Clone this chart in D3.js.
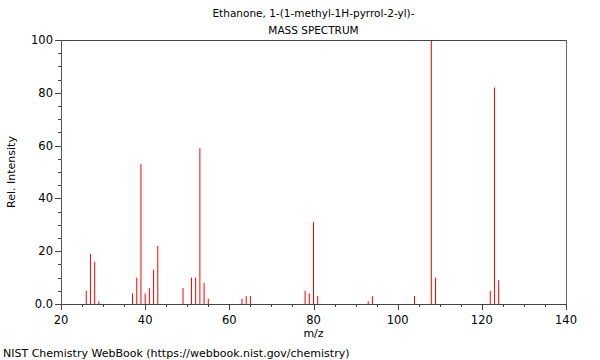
<!DOCTYPE html>
<html><head><meta charset="utf-8">
<script src="https://cdn.jsdelivr.net/npm/d3@7"></script>
<style>body{margin:0;background:#fff}svg{display:block;font-family:"DejaVu Sans",sans-serif}</style>
</head><body><svg id="c" width="600" height="360"></svg>
<script>
const titleLines = ["Ethanone, 1-(1-methyl-1H-pyrrol-2-yl)-", "MASS SPECTRUM"];
const mz =        [26, 27, 28, 29, 37, 38, 39, 40, 41, 42, 43, 49, 51, 52, 53, 54, 55, 63, 64, 65, 78, 79, 80, 81, 93, 94, 104, 108, 109, 122, 123, 124];
const intensity = [5, 19, 16, 1, 4, 10, 53, 4, 6, 13, 22, 6, 10, 10, 59, 8, 2, 2, 3, 3, 5, 4, 31, 3, 1, 3, 3, 100, 10, 5, 82, 9];
const xTicks = [20, 40, 60, 80, 100, 120, 140];
const yTicks = [0, 20, 40, 60, 80, 100];
const yTickLabels = ["0.0", "20", "40", "60", "80", "100"];

const svg = d3.select("#c");
const L = 61, R = 566, T = 40, B = 304;
const x = d3.scaleLinear().domain([20, 140]).range([L, R]);
const y = d3.scaleLinear().domain([0, 100]).range([B, T]);

// peaks
svg.append("g").selectAll("line").data(mz).join("line")
  .attr("x1", (d) => x(d)).attr("x2", (d) => x(d))
  .attr("y1", y(0)).attr("y2", (d, i) => y(intensity[i]))
  .attr("stroke", "#ff0000").attr("stroke-width", 1);

// frame top/right
svg.append("line").attr("x1", L).attr("x2", R).attr("y1", T + 0.5).attr("y2", T + 0.5).attr("stroke", "#444");
svg.append("line").attr("x1", R + 0.5).attr("x2", R + 0.5).attr("y1", T).attr("y2", B).attr("stroke", "#666");

// x axis
const xMinor = d3.range(20, 141, 5);
const xa = svg.append("g");
xa.append("line").attr("x1", L).attr("x2", R + 1).attr("y1", B + 0.5).attr("y2", B + 0.5).attr("stroke", "#444");
xa.selectAll(".mn").data(xMinor).join("line")
  .attr("x1", (d) => Math.round(x(d)) + 0.5).attr("x2", (d) => Math.round(x(d)) + 0.5)
  .attr("y1", B).attr("y2", (d) => B + (d % 20 === 0 ? 6 : 3)).attr("stroke", "#444");
xa.selectAll("text").data(xTicks).join("text")
  .attr("x", (d) => x(d)).attr("y", 324).attr("text-anchor", "middle")
  .attr("font-size", 11.5).attr("fill", "#000").text((d) => d);

// y axis
const yMinor = d3.range(0, 101, 5);
const ya = svg.append("g");
ya.append("line").attr("x1", L + 0.5).attr("x2", L + 0.5).attr("y1", T).attr("y2", B + 1).attr("stroke", "#555");
ya.selectAll(".mn").data(yMinor).join("line")
  .attr("y1", (d) => Math.round(y(d)) + 0.5).attr("y2", (d) => Math.round(y(d)) + 0.5)
  .attr("x1", L).attr("x2", (d) => L - (d % 20 === 0 ? 6 : 3)).attr("stroke", "#444");
ya.selectAll("text").data(yTicks).join("text")
  .attr("x", 53).attr("y", (d) => y(d) + 4).attr("text-anchor", "end")
  .attr("font-size", 11.5).attr("fill", "#000").text((d, i) => yTickLabels[i]);

// titles
svg.selectAll(".title").data(titleLines).join("text")
  .attr("x", (L + R) / 2).attr("y", (d, i) => 17 + i * 17).attr("text-anchor", "middle")
  .attr("font-size", 10.5).attr("fill", "#000").text((d) => d);

svg.append("text").attr("x", (L + R) / 2).attr("y", 337).attr("text-anchor", "middle")
  .attr("font-size", 11).text("m/z");
svg.append("text").attr("transform", `translate(15,${(T + B) / 2}) rotate(-90)`)
  .attr("text-anchor", "middle").attr("font-size", 11).text("Rel. Intensity");
svg.append("text").attr("x", 3).attr("y", 357).attr("font-size", 11)
  .text("NIST Chemistry WebBook (https://webbook.nist.gov/chemistry)");
</script></body></html>
